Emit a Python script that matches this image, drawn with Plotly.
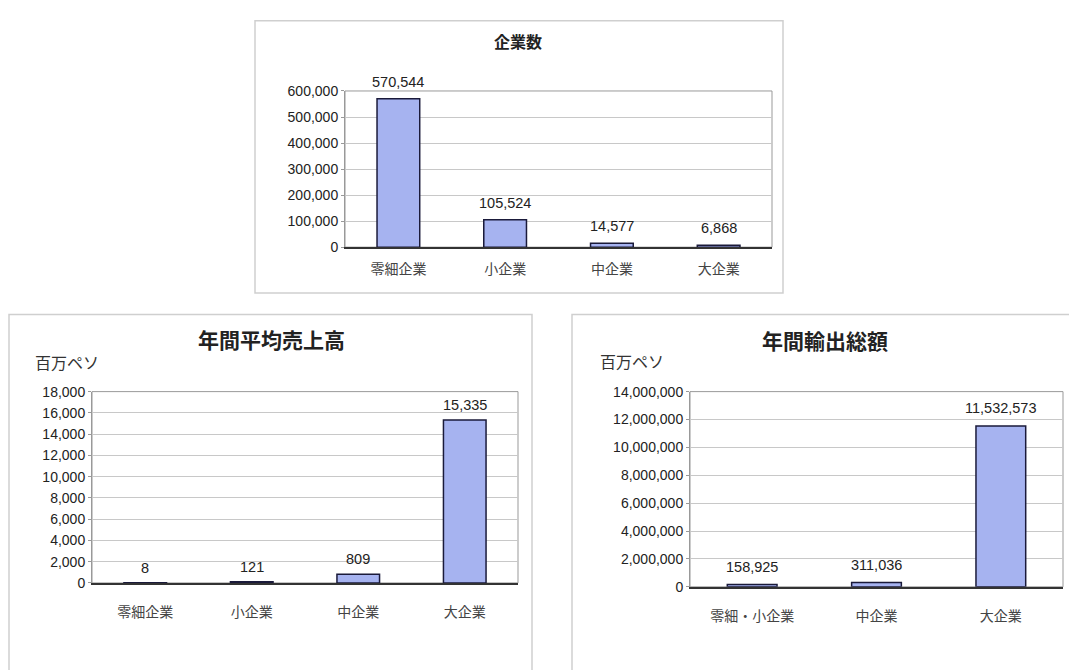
import plotly.graph_objects as go

W, H = 1069, 670

# Data
cats_count = ["零細企業", "小企業", "中企業", "大企業"]
vals_count = [570544, 105524, 14577, 6868]

cats_sales = ["零細企業", "小企業", "中企業", "大企業"]
vals_sales = [8, 121, 809, 15335]

cats_export = ["零細・小企業", "中企業", "大企業"]
vals_export = [158925, 311036, 11532573]

title_count = "企業数"
title_sales = "年間平均売上高"
title_export = "年間輸出総額"
unit_label = "百万ペソ"

BAR = "#A6B3F0"
EDGE = "#1a1a3a"
NUM_FONT = "Liberation Sans"
JP_FONT = "Noto Sans CJK JP"


def px_x(p):
    return p / W


def px_y(p):
    return 1 - p / H


fig = go.Figure()

panels = [
    ("x", "y", cats_count, vals_count, 17),
    ("x2", "y2", cats_sales, vals_sales, 15),
    ("x3", "y3", cats_export, vals_export, 18),
]
for xa, ya, c, v, shift in panels:
    fig.add_trace(go.Bar(
        x=c, y=v, xaxis=xa, yaxis=ya,
        marker=dict(color=BAR, line=dict(color=EDGE, width=1.5)),
        cliponaxis=False, showlegend=False,
    ))
    for ci, vi in zip(c, v):
        fig.add_annotation(x=ci, y=vi, xref=xa, yref=ya, text=f"{vi:,}",
                           showarrow=False, yanchor="middle", yshift=shift,
                           font=dict(family=NUM_FONT, size=14.5, color="#222"))

common_x = dict(showgrid=False, showline=True, linecolor="#333", linewidth=1.5,
                ticks="outside", tickcolor="rgba(0,0,0,0)",
                tickfont=dict(family=JP_FONT, size=14, color="#444"),
                fixedrange=True)
common_y = dict(showgrid=True, gridcolor="#c8c8c8", gridwidth=1, zeroline=False,
                showline=True, linecolor="#999", ticks="outside", ticklen=3,
                tickcolor="#999", tickformat=",",
                tickfont=dict(family=NUM_FONT, size=14, color="#222"),
                fixedrange=True)

fig.update_layout(
    width=W, height=H,
    margin=dict(l=0, r=0, t=0, b=0),
    paper_bgcolor="white", plot_bgcolor="white",
    bargap=0.6,
    xaxis=dict(domain=[px_x(345), px_x(772)], anchor="y", ticklen=8, **common_x),
    yaxis=dict(domain=[px_y(245), px_y(85)], anchor="x", range=[0, 600000], dtick=100000, **common_y),
    xaxis2=dict(domain=[px_x(92), px_x(518)], anchor="y2", ticklen=16, **common_x),
    yaxis2=dict(domain=[px_y(589), px_y(393)], anchor="x2", range=[0, 18000], dtick=2000, **common_y),
    xaxis3=dict(domain=[px_x(690), px_x(1063)], anchor="y3", ticklen=16, **common_x),
    yaxis3=dict(domain=[px_y(593), px_y(393)], anchor="x3", range=[0, 14000000], dtick=2000000, **common_y),
)

shapes = []
# plot area borders
for xa, ya in [("x", "y"), ("x2", "y2"), ("x3", "y3")]:
    shapes.append(dict(type="rect", xref=f"{xa} domain", yref=f"{ya} domain",
                       x0=0, x1=1, y0=0, y1=1, line=dict(color="#999", width=1),
                       layer="below"))
# outer chart boxes
for x0, y0, x1, y1 in [(255, 13, 783, 292), (9, 314, 532, 680), (572, 314, 1080, 680)]:
    shapes.append(dict(type="rect", xref="paper", yref="paper",
                       x0=px_x(x0), x1=px_x(x1), y0=px_y(y1), y1=px_y(y0),
                       line=dict(color="#cfcfcf", width=1.5)))
fig.update_layout(shapes=shapes)

annos = [
    dict(text=f"<b>{title_count}</b>", x=px_x(518), y=px_y(34), size=16),
    dict(text=f"<b>{title_sales}</b>", x=px_x(271), y=px_y(339), size=21),
    dict(text=f"<b>{title_export}</b>", x=px_x(825), y=px_y(340), size=21),
]
for a in annos:
    fig.add_annotation(text=a["text"], x=a["x"], y=a["y"], xref="paper", yref="paper",
                       xanchor="center", yanchor="middle", showarrow=False,
                       font=dict(family=JP_FONT, size=a["size"], color="#222"))
for x, y in [(33, 363), (598, 362)]:
    fig.add_annotation(text=unit_label, x=px_x(x), y=px_y(y), xref="paper", yref="paper",
                       xanchor="left", yanchor="middle", showarrow=False,
                       font=dict(family=JP_FONT, size=16, color="#333"))

fig.write_html("out.html")
